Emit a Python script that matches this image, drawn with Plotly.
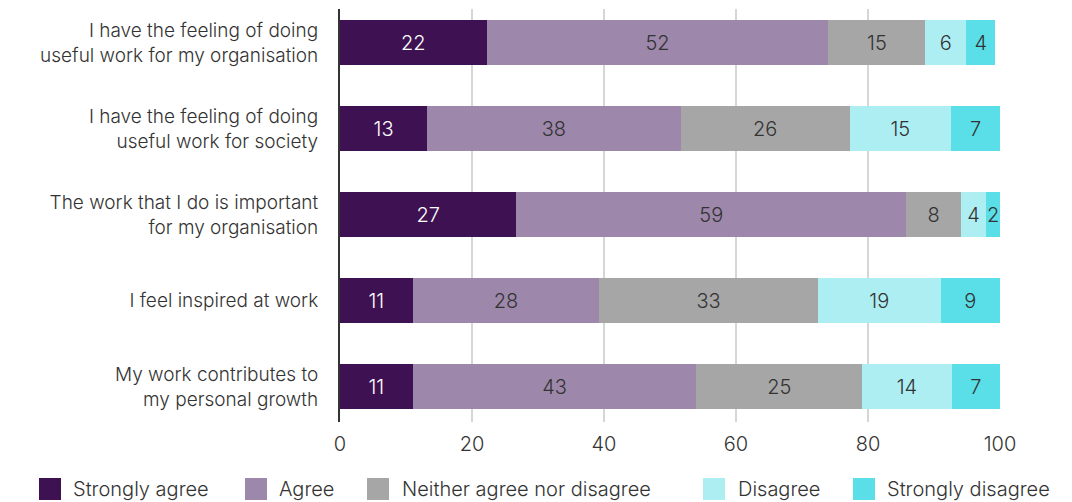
import plotly.graph_objects as go

categories = [
    "I have the feeling of doing<br>useful work for my organisation",
    "I have the feeling of doing<br>useful work for society",
    "The work that I do is important<br>for my organisation",
    "I feel inspired at work",
    "My work contributes to<br>my personal growth",
]
series_names = ["Strongly agree", "Agree", "Neither agree nor disagree", "Disagree", "Strongly disagree"]
strongly_agree = [22.2, 13.2, 26.7, 11.0, 11.0]
agree = [51.8, 38.4, 59.1, 28.3, 43.0]
neither = [14.7, 25.6, 8.3, 33.1, 25.1]
disagree = [6.2, 15.4, 3.8, 18.6, 13.6]
strongly_disagree = [4.4, 7.4, 2.1, 9.0, 7.3]
x_ticks = [0, 20, 40, 60, 80, 100]

colors = ["#3E1152", "#9D87AA", "#A6A6A6", "#ADEEF3", "#5ADFE8"]
text_colors = ["#FFFFFF", "#333333", "#333333", "#333333", "#333333"]
series_values = [strongly_agree, agree, neither, disagree, strongly_disagree]

FONT = "Inter"
WEIGHT = 300
TXT = "#333333"

W, H = 1072, 502
ML, MR, MT, MB = 340, 72, 9, 80
PW, PH = W - ML - MR, H - MT - MB

fig = go.Figure()
for name, vals, col, tc in zip(series_names, series_values, colors, text_colors):
    fig.add_trace(go.Bar(
        y=list(range(len(categories))), x=vals, name=name, orientation="h",
        marker=dict(color=col, line=dict(width=0)), width=0.52,
        texttemplate="%{x:.0f}", textposition="inside", insidetextanchor="middle",
        textangle=0, insidetextfont=dict(family=FONT, size=20, color=tc, weight=WEIGHT),
        showlegend=False, hoverinfo="skip",
    ))

def pxx(px):
    return (px - ML) / PW

def pxy(py):
    return (H - MB - py) / PH

legend_sq = [(39, 61), (245, 267), (367, 389), (703, 725), (853, 875)]
legend_txt_x = [71, 277, 400, 736, 885]
shapes = []
annotations = []
for (x0, x1), tx, col, name in zip(legend_sq, legend_txt_x, colors, series_names):
    shapes.append(dict(type="rect", xref="paper", yref="paper",
                       x0=pxx(x0), x1=pxx(x1), y0=pxy(500), y1=pxy(478),
                       fillcolor=col, line=dict(width=0)))
    annotations.append(dict(xref="paper", yref="paper", x=pxx(tx), y=pxy(489),
                            xanchor="left", yanchor="middle", text=name, showarrow=False,
                            font=dict(family=FONT, size=20, color=TXT, weight=WEIGHT)))

fig.update_layout(
    barmode="stack", width=W, height=H,
    margin=dict(l=ML, r=MR, t=MT, b=MB, pad=0),
    paper_bgcolor="white", plot_bgcolor="white",
    font=dict(family=FONT, size=19, color=TXT, weight=WEIGHT),
    uniformtext=dict(minsize=20, mode="show"),
    shapes=shapes, annotations=annotations,
    xaxis=dict(range=[0, 100], tickvals=x_ticks, showgrid=True, gridcolor="#D6D6D6",
               gridwidth=2, zeroline=False, showline=False, ticks="", ticklabelstandoff=8,
               tickfont=dict(family=FONT, size=20, color=TXT, weight=WEIGHT)),
    yaxis=dict(tickmode="array", tickvals=list(range(len(categories))), ticktext=categories,
               range=[4.41, -0.39], showgrid=False, zeroline=False, showline=True,
               linecolor="#333333", linewidth=2, ticks="", ticklabelstandoff=16,
               tickfont=dict(family=FONT, size=19, color=TXT, weight=WEIGHT)),
)

fig.write_html("out.html")
